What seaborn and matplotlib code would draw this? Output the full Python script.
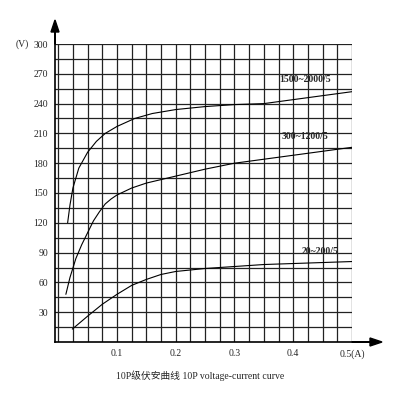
import numpy as np
import matplotlib
matplotlib.use("Agg")
import matplotlib.pyplot as plt
import seaborn as sns
import pandas as pd

sns.set_style("white")
plt.rcParams['font.family'] = ['Liberation Serif', 'Noto Sans CJK SC']

x_hi = [0.016, 0.02, 0.025, 0.035, 0.05, 0.065, 0.08, 0.1, 0.13, 0.16, 0.2, 0.25, 0.3, 0.35, 0.4, 0.45, 0.5]
v_hi = [120, 138, 155, 175, 191, 202, 210, 217, 225, 230, 234, 237, 239, 240, 244, 248, 252]
x_mid = [0.013, 0.02, 0.03, 0.04, 0.05, 0.06, 0.07, 0.08, 0.09, 0.1, 0.125, 0.15, 0.2, 0.25, 0.3, 0.35, 0.4, 0.45, 0.5]
v_mid = [48, 65, 84, 98, 110, 122, 131, 139, 144, 148, 155, 160, 167, 174, 180, 184, 188, 192, 196]
x_lo = [0.024, 0.04, 0.05, 0.075, 0.1, 0.125, 0.15, 0.175, 0.2, 0.25, 0.3, 0.35, 0.4, 0.45, 0.5]
v_lo = [13, 21, 26, 38, 48, 57, 63, 68, 71, 74, 76, 78, 79, 80, 81]
labels = ["1500~2000/5", "300~1200/5", "20~200/5"]
label_x = [0.42, 0.42, 0.445]
label_y = [264, 207, 91]
x_ticks = [0.1, 0.2, 0.3, 0.4, 0.5]
x_ticklabels = ["0.1", "0.2", "0.3", "0.4", "0.5(A)"]
y_ticks = [30, 60, 90, 120, 150, 180, 210, 240, 270, 300]

fig = plt.figure(figsize=(4, 4), dpi=100)
ax = fig.add_axes([0.1375, 0.145, 0.7425, 0.745])
ax.set_xlim(-0.0055, 0.5)
ax.set_ylim(0, 300)

for xs, vs in [(x_hi, v_hi), (x_mid, v_mid), (x_lo, v_lo)]:
    sns.lineplot(x=xs, y=vs, ax=ax, color='black', lw=0.8, sort=False)

for g in np.arange(0, 0.501, 0.025):
    ax.axvline(g, color='#222222', lw=0.9, zorder=0)
for g in np.arange(15, 301, 15):
    ax.axhline(g, color='#222222', lw=0.9, zorder=0)

for t, lx, ly in zip(labels, label_x, label_y):
    ax.text(lx, ly, t, fontsize=7, fontweight='bold', ha='center', va='center')

ax.set_xticks(x_ticks)
ax.set_xticklabels(x_ticklabels, fontsize=7)
ax.set_yticks(y_ticks)
ax.set_yticklabels([str(v) for v in y_ticks], fontsize=7)
ax.tick_params(length=0, pad=5)
for s in ['top', 'right']:
    ax.spines[s].set_visible(False)
for s in ['left', 'bottom']:
    ax.spines[s].set_color('black')
    ax.spines[s].set_linewidth(1.2)

fig.add_artist(matplotlib.patches.FancyArrow(0.1375, 0.89, 0, 0.06, width=0.001, head_width=0.02,
               head_length=0.03, color='black', length_includes_head=True, transform=fig.transFigure))
fig.add_artist(matplotlib.patches.FancyArrow(0.88, 0.145, 0.075, 0, width=0.001, head_width=0.02,
               head_length=0.03, color='black', length_includes_head=True, transform=fig.transFigure))
fig.text(0.04, 0.89, "(V)", fontsize=7, va='center')
fig.text(0.5, 0.06, "10P级伏安曲线 10P voltage-current curve", fontsize=7, ha='center', va='center')
fig.savefig("out.png", dpi=100, facecolor='white')
